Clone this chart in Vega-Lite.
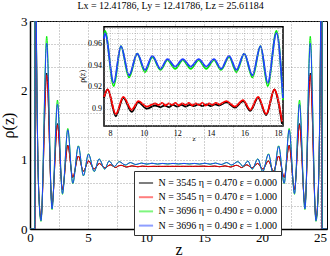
{
"$schema": "https://vega.github.io/schema/vega-lite/v6.json",
"width": 297, "height": 208,
"autosize": {"type": "none"},
"padding": {"left": 30, "top": 21, "right": 3, "bottom": 27},
"background": "white",
"config": {"font": "Liberation Serif", "view": {"stroke": "black", "strokeWidth": 1}},
"title": {"text": "Lx = 12.41786, Ly = 12.41786, Lz = 25.61184", "fontSize": 10, "fontWeight": "normal", "font": "Liberation Serif", "color": "black", "dx": -8, "offset": 4, "anchor": "middle"},
"datasets": {"d": [
{"s":"k","z":0,"v":0},{"s":"k","z":0.43,"v":0},{"s":"k","z":0.45,"v":5.7},{"s":"k","z":0.56,"v":2.65},{"s":"k","z":0.66,"v":1.2},{"s":"k","z":0.76,"v":0.51},{"s":"k","z":0.95,"v":0.15},{"s":"k","z":1.44,"v":2.25},{"s":"k","z":1.9,"v":0.345},{"s":"k","z":2.37,"v":1.52},{"s":"k","z":2.8,"v":0.565},{"s":"k","z":3.26,"v":1.21},{"s":"k","z":3.69,"v":0.742},{"s":"k","z":4.17,"v":1.053},{"s":"k","z":4.61,"v":0.833},{"s":"k","z":5.05,"v":0.981},{"s":"k","z":5.54,"v":0.866},{"s":"k","z":5.98,"v":0.945},{"s":"k","z":6.46,"v":0.88},{"s":"k","z":6.92,"v":0.925},{"s":"k","z":7.4,"v":0.887},{"s":"k","z":7.64,"v":0.91},{"s":"k","z":7.86,"v":0.918},{"s":"k","z":8.34,"v":0.893},{"s":"k","z":8.79,"v":0.91},{"s":"k","z":9.29,"v":0.897},{"s":"k","z":9.69,"v":0.906},{"s":"k","z":10.18,"v":0.9},{"s":"k","z":10.68,"v":0.903},{"s":"k","z":11.0,"v":0.9015},{"s":"k","z":11.25,"v":0.903},{"s":"k","z":11.5,"v":0.9015},{"s":"k","z":11.75,"v":0.9035},{"s":"k","z":12.0,"v":0.902},{"s":"k","z":12.25,"v":0.9035},{"s":"k","z":12.5,"v":0.902},{"s":"k","z":12.75,"v":0.9035},{"s":"k","z":13.0,"v":0.9025},{"s":"k","z":13.25,"v":0.904},{"s":"k","z":13.5,"v":0.9025},{"s":"k","z":13.75,"v":0.904},{"s":"k","z":14.0,"v":0.9025},{"s":"k","z":14.25,"v":0.904},{"s":"k","z":14.5,"v":0.903},{"s":"k","z":14.93,"v":0.906},{"s":"k","z":15.43,"v":0.901},{"s":"k","z":15.92,"v":0.907},{"s":"k","z":16.35,"v":0.898},{"s":"k","z":16.82,"v":0.91},{"s":"k","z":17.3,"v":0.894},{"s":"k","z":17.79,"v":0.918},{"s":"k","z":17.97,"v":0.91},{"s":"k","z":18.24,"v":0.886},{"s":"k","z":18.69,"v":0.925},{"s":"k","z":19.15,"v":0.88},{"s":"k","z":19.63,"v":0.945},{"s":"k","z":20.07,"v":0.866},{"s":"k","z":20.56,"v":0.981},{"s":"k","z":21.0,"v":0.833},{"s":"k","z":21.44,"v":1.053},{"s":"k","z":21.92,"v":0.742},{"s":"k","z":22.35,"v":1.21},{"s":"k","z":22.81,"v":0.565},{"s":"k","z":23.24,"v":1.52},{"s":"k","z":23.71,"v":0.345},{"s":"k","z":24.17,"v":2.25},{"s":"k","z":24.66,"v":0.15},{"s":"k","z":24.85,"v":0.51},{"s":"k","z":24.95,"v":1.2},{"s":"k","z":25.05,"v":2.65},{"s":"k","z":25.16,"v":5.7},{"s":"k","z":25.18,"v":0},{"s":"k","z":25.612,"v":0},
{"s":"r","z":0,"v":0},{"s":"r","z":0.43,"v":0},{"s":"r","z":0.45,"v":5.5},{"s":"r","z":0.56,"v":2.6},{"s":"r","z":0.66,"v":1.2},{"s":"r","z":0.76,"v":0.52},{"s":"r","z":0.95,"v":0.155},{"s":"r","z":1.44,"v":2.22},{"s":"r","z":1.9,"v":0.35},{"s":"r","z":2.37,"v":1.5},{"s":"r","z":2.8,"v":0.57},{"s":"r","z":3.26,"v":1.2},{"s":"r","z":3.69,"v":0.745},{"s":"r","z":4.17,"v":1.05},{"s":"r","z":4.61,"v":0.835},{"s":"r","z":5.05,"v":0.98},{"s":"r","z":5.54,"v":0.868},{"s":"r","z":5.98,"v":0.945},{"s":"r","z":6.46,"v":0.882},{"s":"r","z":6.92,"v":0.926},{"s":"r","z":7.4,"v":0.889},{"s":"r","z":7.64,"v":0.911},{"s":"r","z":7.86,"v":0.918},{"s":"r","z":8.34,"v":0.895},{"s":"r","z":8.79,"v":0.911},{"s":"r","z":9.29,"v":0.899},{"s":"r","z":9.69,"v":0.907},{"s":"r","z":10.18,"v":0.902},{"s":"r","z":10.68,"v":0.905},{"s":"r","z":10.9,"v":0.9035},{"s":"r","z":11.1,"v":0.9055},{"s":"r","z":11.3,"v":0.903},{"s":"r","z":11.5,"v":0.905},{"s":"r","z":11.7,"v":0.9035},{"s":"r","z":11.9,"v":0.9055},{"s":"r","z":12.1,"v":0.903},{"s":"r","z":12.3,"v":0.905},{"s":"r","z":12.5,"v":0.9035},{"s":"r","z":12.7,"v":0.9055},{"s":"r","z":12.9,"v":0.903},{"s":"r","z":13.1,"v":0.905},{"s":"r","z":13.3,"v":0.9035},{"s":"r","z":13.5,"v":0.9055},{"s":"r","z":13.7,"v":0.903},{"s":"r","z":13.9,"v":0.905},{"s":"r","z":14.1,"v":0.9035},{"s":"r","z":14.3,"v":0.9055},{"s":"r","z":14.5,"v":0.904},{"s":"r","z":14.93,"v":0.907},{"s":"r","z":15.43,"v":0.902},{"s":"r","z":15.92,"v":0.908},{"s":"r","z":16.35,"v":0.899},{"s":"r","z":16.82,"v":0.911},{"s":"r","z":17.3,"v":0.895},{"s":"r","z":17.79,"v":0.918},{"s":"r","z":17.97,"v":0.911},{"s":"r","z":18.24,"v":0.888},{"s":"r","z":18.69,"v":0.926},{"s":"r","z":19.15,"v":0.882},{"s":"r","z":19.63,"v":0.945},{"s":"r","z":20.07,"v":0.868},{"s":"r","z":20.56,"v":0.98},{"s":"r","z":21.0,"v":0.835},{"s":"r","z":21.44,"v":1.05},{"s":"r","z":21.92,"v":0.745},{"s":"r","z":22.35,"v":1.2},{"s":"r","z":22.81,"v":0.57},{"s":"r","z":23.24,"v":1.5},{"s":"r","z":23.71,"v":0.35},{"s":"r","z":24.17,"v":2.22},{"s":"r","z":24.66,"v":0.155},{"s":"r","z":24.85,"v":0.52},{"s":"r","z":24.95,"v":1.2},{"s":"r","z":25.05,"v":2.6},{"s":"r","z":25.16,"v":5.5},{"s":"r","z":25.18,"v":0},{"s":"r","z":25.612,"v":0},
{"s":"g","z":0,"v":0},{"s":"g","z":0.4,"v":0},{"s":"g","z":0.42,"v":7.5},{"s":"g","z":0.54,"v":3.1},{"s":"g","z":0.65,"v":1.33},{"s":"g","z":0.75,"v":0.53},{"s":"g","z":0.95,"v":0.11},{"s":"g","z":1.44,"v":2.78},{"s":"g","z":1.9,"v":0.28},{"s":"g","z":2.37,"v":1.86},{"s":"g","z":2.8,"v":0.5},{"s":"g","z":3.26,"v":1.45},{"s":"g","z":3.69,"v":0.655},{"s":"g","z":4.17,"v":1.2},{"s":"g","z":4.61,"v":0.765},{"s":"g","z":5.04,"v":1.085},{"s":"g","z":5.54,"v":0.826},{"s":"g","z":5.96,"v":1.012},{"s":"g","z":6.45,"v":0.862},{"s":"g","z":6.82,"v":0.981},{"s":"g","z":7.27,"v":0.9},{"s":"g","z":7.64,"v":0.967},{"s":"g","z":7.7,"v":0.972},{"s":"g","z":8.22,"v":0.921},{"s":"g","z":8.65,"v":0.958},{"s":"g","z":9.13,"v":0.929},{"s":"g","z":9.62,"v":0.951},{"s":"g","z":10.08,"v":0.934},{"s":"g","z":10.52,"v":0.948},{"s":"g","z":11.0,"v":0.936},{"s":"g","z":11.42,"v":0.945},{"s":"g","z":11.88,"v":0.937},{"s":"g","z":12.33,"v":0.945},{"s":"g","z":12.806,"v":0.937},{"s":"g","z":13.28,"v":0.945},{"s":"g","z":13.73,"v":0.937},{"s":"g","z":14.19,"v":0.945},{"s":"g","z":14.61,"v":0.936},{"s":"g","z":15.09,"v":0.948},{"s":"g","z":15.53,"v":0.934},{"s":"g","z":15.99,"v":0.951},{"s":"g","z":16.48,"v":0.929},{"s":"g","z":16.96,"v":0.958},{"s":"g","z":17.39,"v":0.921},{"s":"g","z":17.91,"v":0.972},{"s":"g","z":18.3,"v":0.908},{"s":"g","z":18.342,"v":0.9},{"s":"g","z":18.79,"v":0.981},{"s":"g","z":19.16,"v":0.862},{"s":"g","z":19.65,"v":1.012},{"s":"g","z":20.07,"v":0.826},{"s":"g","z":20.57,"v":1.085},{"s":"g","z":21.0,"v":0.765},{"s":"g","z":21.44,"v":1.2},{"s":"g","z":21.92,"v":0.655},{"s":"g","z":22.35,"v":1.45},{"s":"g","z":22.81,"v":0.5},{"s":"g","z":23.24,"v":1.86},{"s":"g","z":23.71,"v":0.28},{"s":"g","z":24.17,"v":2.78},{"s":"g","z":24.66,"v":0.11},{"s":"g","z":24.86,"v":0.53},{"s":"g","z":24.96,"v":1.33},{"s":"g","z":25.07,"v":3.1},{"s":"g","z":25.19,"v":7.5},{"s":"g","z":25.21,"v":0},{"s":"g","z":25.612,"v":0},
{"s":"b","z":0,"v":0},{"s":"b","z":0.42,"v":0},{"s":"b","z":0.44,"v":7},{"s":"b","z":0.55,"v":3},{"s":"b","z":0.65,"v":1.35},{"s":"b","z":0.75,"v":0.55},{"s":"b","z":0.95,"v":0.12},{"s":"b","z":1.44,"v":2.68},{"s":"b","z":1.9,"v":0.29},{"s":"b","z":2.37,"v":1.8},{"s":"b","z":2.8,"v":0.51},{"s":"b","z":3.26,"v":1.43},{"s":"b","z":3.69,"v":0.66},{"s":"b","z":4.17,"v":1.195},{"s":"b","z":4.61,"v":0.77},{"s":"b","z":5.04,"v":1.08},{"s":"b","z":5.54,"v":0.83},{"s":"b","z":5.96,"v":1.01},{"s":"b","z":6.45,"v":0.865},{"s":"b","z":6.82,"v":0.98},{"s":"b","z":7.27,"v":0.902},{"s":"b","z":7.64,"v":0.965},{"s":"b","z":7.7,"v":0.97},{"s":"b","z":8.22,"v":0.924},{"s":"b","z":8.65,"v":0.958},{"s":"b","z":9.13,"v":0.931},{"s":"b","z":9.62,"v":0.951},{"s":"b","z":10.08,"v":0.936},{"s":"b","z":10.52,"v":0.949},{"s":"b","z":11.0,"v":0.937},{"s":"b","z":11.42,"v":0.946},{"s":"b","z":11.88,"v":0.939},{"s":"b","z":12.33,"v":0.946},{"s":"b","z":12.806,"v":0.939},{"s":"b","z":13.28,"v":0.946},{"s":"b","z":13.73,"v":0.939},{"s":"b","z":14.19,"v":0.946},{"s":"b","z":14.61,"v":0.937},{"s":"b","z":15.09,"v":0.949},{"s":"b","z":15.53,"v":0.936},{"s":"b","z":15.99,"v":0.951},{"s":"b","z":16.48,"v":0.931},{"s":"b","z":16.96,"v":0.958},{"s":"b","z":17.39,"v":0.924},{"s":"b","z":17.91,"v":0.97},{"s":"b","z":18.3,"v":0.91},{"s":"b","z":18.342,"v":0.902},{"s":"b","z":18.79,"v":0.98},{"s":"b","z":19.16,"v":0.865},{"s":"b","z":19.65,"v":1.01},{"s":"b","z":20.07,"v":0.83},{"s":"b","z":20.57,"v":1.08},{"s":"b","z":21.0,"v":0.77},{"s":"b","z":21.44,"v":1.195},{"s":"b","z":21.92,"v":0.66},{"s":"b","z":22.35,"v":1.43},{"s":"b","z":22.81,"v":0.51},{"s":"b","z":23.24,"v":1.8},{"s":"b","z":23.71,"v":0.29},{"s":"b","z":24.17,"v":2.68},{"s":"b","z":24.66,"v":0.12},{"s":"b","z":24.86,"v":0.55},{"s":"b","z":24.96,"v":1.35},{"s":"b","z":25.06,"v":3},{"s":"b","z":25.17,"v":7},{"s":"b","z":25.19,"v":0},{"s":"b","z":25.612,"v":0}
]},
"layer": [
{
"data": {"name": "d"},
"mark": {"type": "line", "interpolate": "monotone", "clip": true, "strokeWidth": 1},
"encoding": {
"x": {"field": "z", "type": "quantitative", "scale": {"domain": [0, 25.61184], "nice": false, "zero": false},
"axis": {"orient": "bottom", "values": [0,2.5,5,7.5,10,12.5,15,17.5,20,22.5,25], "labelExpr": "datum.value % 5 == 0 ? datum.label : ''", "grid": true, "gridDash": [1,2], "gridColor": "#888", "gridWidth": 0.8, "ticks": false, "domainColor": "black", "domainWidth": 1.5, "labelFontSize": 13, "labelColor": "black", "labelPadding": 2, "labelFlush": false, "labelOverlap": false, "title": "z", "titleFontSize": 16, "titleFontWeight": "normal", "titleColor": "black", "titlePadding": -3}},
"y": {"field": "v", "type": "quantitative", "scale": {"domain": [0, 3], "nice": false},
"axis": {"orient": "left", "values": [0,0.3333,0.6667,1,1.3333,1.6667,2,2.3333,2.6667,3], "labelExpr": "abs(datum.value - round(datum.value)) < 0.01 ? format(datum.value, 'd') : ''", "grid": true, "gridDash": [1,2], "gridColor": "#888", "gridWidth": 0.8, "ticks": false, "domainColor": "black", "domainWidth": 1.5, "labelFontSize": 13, "labelColor": "black", "labelPadding": 3, "labelFlush": false, "labelOverlap": false, "title": "ρ(z)", "titleFontSize": 16, "titleFontWeight": "normal", "titleColor": "black", "titlePadding": 4}},
"color": {"field": "s", "type": "nominal", "scale": {"domain": ["k","r","g","b"], "range": ["#000000","#ff0000","#00ee00","#1f3fff"]},
"legend": {"orient": "none", "legendX": 104, "legendY": 150, "title": null, "fillColor": "white", "strokeColor": "#333", "padding": 3.5, "symbolType": "stroke", "symbolSize": 200, "symbolStrokeWidth": 2, "symbolOpacity": 0.5, "labelFontSize": 10, "labelFont": "Liberation Serif", "labelColor": "black", "rowPadding": 0.2, "labelLimit": 200,
"labelExpr": "datum.label == 'k' ? 'N = 3545 η = 0.470 ε = 0.000' : datum.label == 'r' ? 'N = 3545 η = 0.470 ε = 1.000' : datum.label == 'g' ? 'N = 3696 η = 0.490 ε = 0.000' : 'N = 3696 η = 0.490 ε = 1.000'"}}
}
},
{
"data": {"values": [{"a": 1}]},
"mark": {"type": "rect", "fill": "white", "stroke": "black", "strokeWidth": 1.5},
"encoding": {
"x": {"datum": 7.64, "type": "quantitative", "scale": {"domain": [7.64, 18.3], "range": [74, 253], "nice": false, "zero": false},
"axis": {"orient": "top", "offset": -105, "zindex": 1, "values": [8,8.5,9,9.5,10,10.5,11,11.5,12,12.5,13,13.5,14,14.5,15,15.5,16,16.5,17,17.5,18], "grid": true, "gridDash": [1,1.5], "gridColor": "#999", "gridWidth": 0.6, "ticks": false, "domain": false, "labels": false, "title": null}},
"x2": {"datum": 18.3},
"y": {"datum": 0.884, "type": "quantitative", "scale": {"domain": [0.884, 0.976], "range": [105, 5.7], "nice": false, "zero": false},
"axis": {"orient": "left", "offset": -74, "zindex": 1, "values": [0.885,0.89,0.895,0.9,0.905,0.91,0.915,0.92,0.925,0.93,0.935,0.94,0.945,0.95,0.955,0.96,0.965,0.97,0.975], "grid": true, "gridDash": [1,1.5], "gridColor": "#999", "gridWidth": 0.6, "ticks": false, "domain": false, "labels": false, "title": null}},
"y2": {"datum": 0.976}
}
},
{
"data": {"values": [{"t": 0.9, "l": "0.9"}, {"t": 0.92, "l": "0.92"}, {"t": 0.94, "l": "0.94"}, {"t": 0.96, "l": "0.96"}]},
"mark": {"type": "text", "align": "right", "baseline": "middle", "dx": -2, "fontSize": 8, "font": "Liberation Serif", "color": "black"},
"encoding": {
"x": {"datum": 7.64, "type": "quantitative", "scale": {"domain": [7.64, 18.3], "range": [74, 253], "nice": false, "zero": false}, "axis": null},
"y": {"field": "t", "type": "quantitative", "scale": {"domain": [0.884, 0.976], "range": [105, 5.7], "nice": false, "zero": false}, "axis": null},
"text": {"field": "l"}
}
},
{
"data": {"values": [{"a": 1}]},
"mark": {"type": "text", "align": "center", "baseline": "middle", "angle": 270, "fontSize": 8, "font": "Liberation Serif", "color": "black"},
"encoding": {
"x": {"datum": 6.4, "type": "quantitative", "scale": {"domain": [7.64, 18.3], "range": [74, 253], "nice": false, "zero": false}, "axis": null},
"y": {"datum": 0.93, "type": "quantitative", "scale": {"domain": [0.884, 0.976], "range": [105, 5.7], "nice": false, "zero": false}, "axis": null},
"text": {"value": "ρ(z)"}
}
},
{
"data": {"name": "d"},
"transform": [{"filter": "datum.z >= 7.6 && datum.z <= 18.31"}],
"mark": {"type": "line", "interpolate": "monotone", "strokeWidth": 1.8},
"encoding": {
"x": {"field": "z", "type": "quantitative", "scale": {"domain": [7.64, 18.3], "range": [74, 253], "nice": false, "zero": false},
"axis": {"orient": "top", "offset": -105, "zindex": 1, "values": [8,10,12,14,16,18], "grid": false, "ticks": false, "domain": false, "labelFontSize": 8, "labelColor": "black", "labelBaseline": "top", "labelPadding": -3.5, "labelFlush": false, "labelOverlap": false, "title": "z", "titleFontSize": 7, "titleFontWeight": "normal", "titleColor": "black", "titleY": 14, "titleBaseline": "alphabetic"}},
"y": {"field": "v", "type": "quantitative", "scale": {"domain": [0.884, 0.976], "range": [105, 5.7], "nice": false, "zero": false}, "axis": null},
"color": {"field": "s", "type": "nominal", "scale": {"domain": ["k","r","g","b"], "range": ["#000000","#ff0000","#00ee00","#1f3fff"]}}
}
}
],
"resolve": {"scale": {"x": "independent", "y": "independent"}, "axis": {"x": "independent", "y": "independent"}}
}
